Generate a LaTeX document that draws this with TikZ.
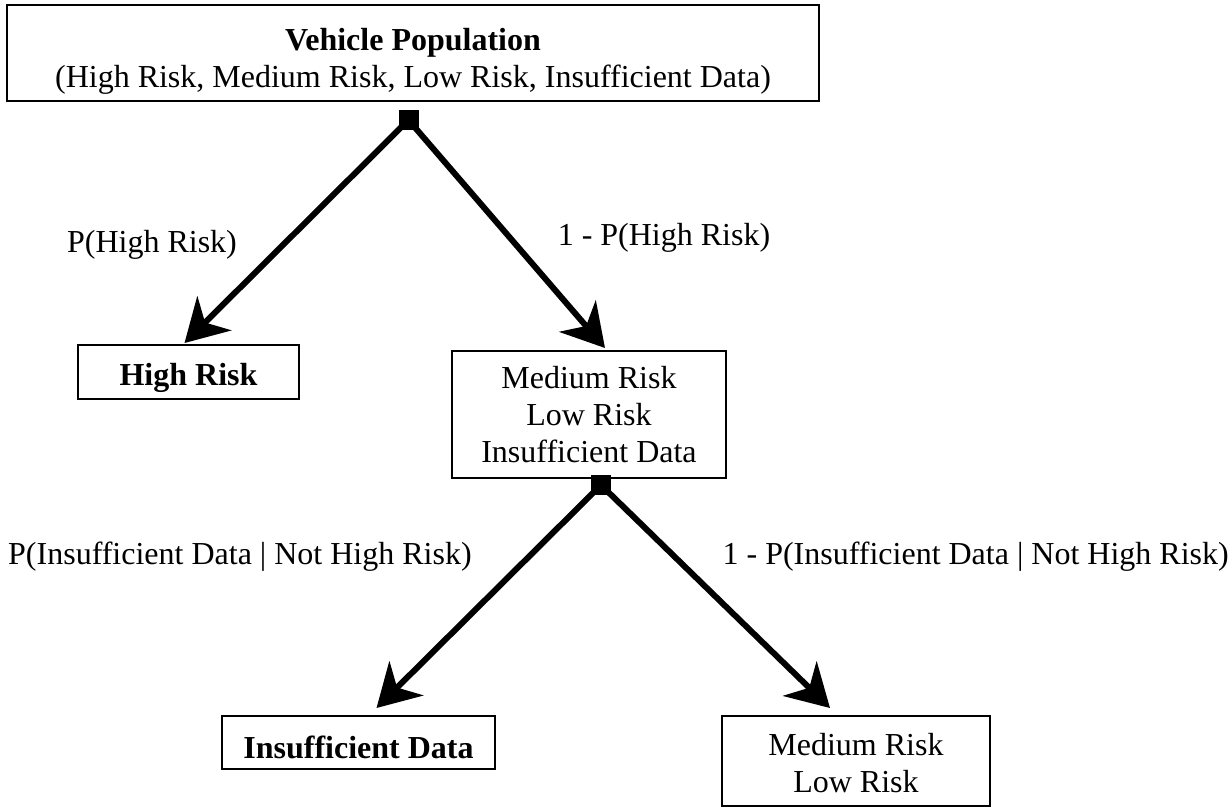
\documentclass[tikz,border=0pt]{standalone}
\usepackage{fontspec}
\setmainfont{Liberation Serif}
\usetikzlibrary{arrows.meta}
\begin{document}
\begin{tikzpicture}[x=1pt,y=-1pt,
  every node/.style={font=\fontsize{32}{37}\selectfont},
  every label/.style={inner sep=0pt,align=center},
  box/.style={draw,line width=2pt,rectangle,inner sep=0pt,align=center},
  junction/.style={fill=black,rectangle,minimum size=20pt,inner sep=0pt},
  lbl/.style={inner sep=0pt},
  branch/.style={line width=6pt,-{Stealth[length=42pt,width=48pt,inset=13pt]}}]
\useasboundingbox (0,0) rectangle (1232,807);

% boxes (text set as a centred label, nudged down a little)
\node[box,minimum width=812pt,minimum height=96pt,
  label={[yshift=-8pt]center:\textbf{Vehicle Population}\\(High Risk, Medium Risk, Low Risk, Insufficient Data)}]
  (pop) at (413,53) {};
\node[box,minimum width=221pt,minimum height=54pt,
  label={[yshift=-6pt]center:\textbf{High Risk}}] (hr) at (188.5,372) {};
\node[box,minimum width=274pt,minimum height=127pt] (rest) at (589,414.5)
  {Medium Risk\\Low Risk\\Insufficient Data};
\node[box,minimum width=273pt,minimum height=53pt,
  label={[yshift=-5pt]center:\textbf{Insufficient Data}}] (ins) at (358.5,742.5) {};
\node[box,minimum width=268pt,minimum height=90pt,
  label={[yshift=-2pt]center:Medium Risk\\Low Risk}] (ml) at (856,761) {};

% split points
\node[junction] (j1) at (408.5,120) {};
\node[junction] (j2) at (601,485) {};

% branches
\draw[branch] (j1.center) -- ([xshift=-4pt,yshift=1pt]hr.north);
\draw[branch] (j1.center) -- ([xshift=16pt,yshift=2pt]rest.north);
\draw[branch] (j2.center) -- ([xshift=18pt,yshift=7pt]ins.north);
\draw[branch] (j2.center) -- ([xshift=-26pt,yshift=7pt]ml.north);
\node[junction] at (j1) {};
\node[junction] at (j2) {};

% probabilities
\node[lbl] (p1) at (152,245) {P(High Risk)};
\node[lbl] (p2) at (664,238) {1 - P(High Risk)};
\node[lbl,anchor=west] (p3) at (8,557) {P(Insufficient Data | Not High Risk)};
\node[lbl,anchor=east] (p4) at (1229,557) {1 - P(Insufficient Data | Not High Risk)};
\end{tikzpicture}
\end{document}
